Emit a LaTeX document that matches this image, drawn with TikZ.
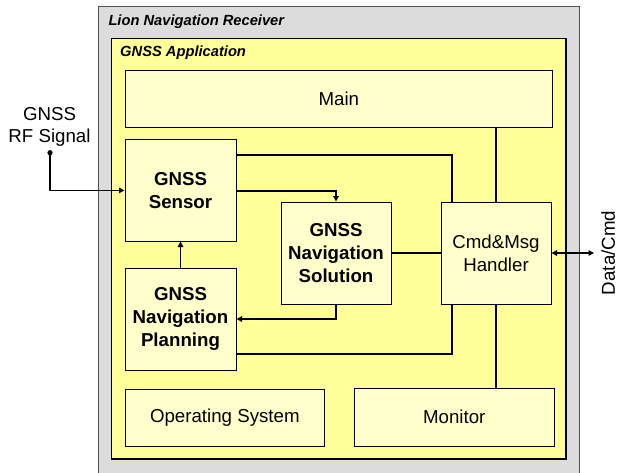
\documentclass[tikz,border=0pt]{standalone}
\usepackage{fontspec}
\setmainfont{Liberation Sans}
\usetikzlibrary{arrows.meta}
\definecolor{outergray}{RGB}{220,220,220}
\definecolor{appyellow}{RGB}{255,255,153}
\definecolor{boxyellow}{RGB}{255,255,204}
\definecolor{bordergray}{RGB}{80,80,80}
\begin{document}
\begin{tikzpicture}[x=1pt,y=-1pt,
  blk/.style={draw=black,line width=1pt,fill=boxyellow,rectangle,inner sep=0pt,
    align=center,font=\fontsize{18.7}{22.7}\selectfont},
  bblk/.style={blk,font=\fontsize{18.7}{22.7}\selectfont\bfseries},
  ttl/.style={anchor=base west,inner sep=0pt,font=\fontsize{14.7}{17}\selectfont\bfseries\itshape},
  lbl/.style={inner sep=0pt,align=center,font=\fontsize{18.7}{22.7}\selectfont},
  conn/.style={line width=1.7pt,line cap=butt},
  arr/.style={conn,-{Triangle[length=5.5pt,width=5.5pt]}},
  darr/.style={conn,{Triangle[length=5.5pt,width=5.5pt]}-{Triangle[length=5.5pt,width=5.5pt]}}]
\useasboundingbox (0,0) rectangle (619,472);
% containers
\node[draw=bordergray,line width=1pt,fill=outergray,rectangle,inner sep=0pt,
  minimum width=481pt,minimum height=474pt] (outer) at (338.8,243) {};
\node[draw=black,line width=1.2pt,fill=appyellow,rectangle,inner sep=0pt,
  minimum width=454.7pt,minimum height=420.7pt] (app) at (338.65,248.65) {};
\node[ttl] (outerttl) at (108.3,25) {Lion Navigation Receiver};
\node[ttl] (appttl) at (120,56.5) {GNSS Application};
% blocks
\node[blk,minimum width=427pt,minimum height=57pt] (main) at (338.8,98.8) {Main};
\node[bblk,minimum width=111pt,minimum height=101.3pt] (sensor) at (180.5,190.35) {GNSS\\Sensor};
\node[bblk,minimum width=111pt,minimum height=102pt] (planning) at (180.5,319) {GNSS\\Navigation\\Planning};
\node[bblk,minimum width=110pt,minimum height=102pt] (solution) at (336,253) {GNSS\\Navigation\\Solution};
\node[blk,minimum width=110pt,minimum height=102pt] (handler) at (496,253) {Cmd\&Msg\\Handler};
\node[blk,minimum width=199.7pt,minimum height=57.3pt] (os) at (224.85,417.65) {Operating System};
\node[blk,minimum width=200pt,minimum height=57.7pt] (monitor) at (454.3,417.15) {Monitor};
% external labels
\node[lbl] (rflbl) at (49.5,127) {GNSS\\RF Signal};
\node[lbl,rotate=90] (dclbl) at (608.3,253) {Data/Cmd};
\coordinate (rf) at (50,152.7);
\coordinate (dc) at (594,253);
% connectors
\fill (rf) circle (2.6pt);
\draw[arr] (rf) |- (sensor.west);
\draw[conn] (sensor.east |- 0,155) -| (451.7,0 |- handler.north);
\draw[arr] (sensor.east |- 0,190.7) -| (solution.north);
\draw[conn] (solution.east) -- (handler.west);
\draw[arr] (solution.south) |- (planning.east);
\draw[conn] (planning.east |- 0,354) -| (451.7,0 |- handler.south);
\draw[arr] (planning.north) -- (sensor.south);
\draw[conn] (handler.north |- main.south) -- (handler.north);
\draw[conn] (handler.south) -- (handler.south |- monitor.north);
\draw[darr] (handler.east) -- (dc);
\end{tikzpicture}
\end{document}
